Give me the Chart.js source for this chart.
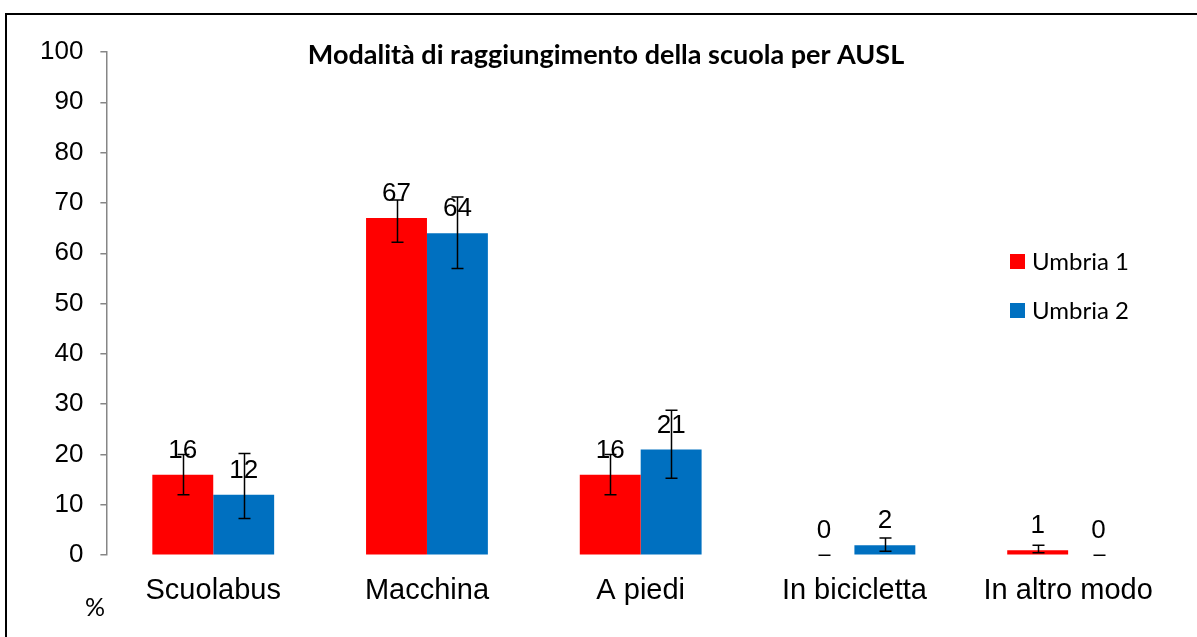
<!DOCTYPE html>
<html>
<head>
<meta charset="utf-8">
<script src="https://cdn.jsdelivr.net/npm/chart.js@4.4.1/dist/chart.umd.min.js"></script>
<style>
  html, body { margin: 0; padding: 0; background: #ffffff; }
  #wrap { position: relative; width: 1197px; height: 637px; }
</style>
</head>
<body>
<div id="wrap"><canvas id="c" width="1197" height="637"></canvas></div>
<script>
const titleText = 'Modalità di raggiungimento della scuola per AUSL';
const categories = ['Scuolabus', 'Macchina', 'A piedi', 'In bicicletta', 'In altro modo'];
const seriesNames = ['Umbria 1', 'Umbria 2'];
const umbria1 = [16, 67, 16, 0, 1];
const umbria2 = [12, 64, 21, 2, 0];
const umbria1Low = [12, 62.2, 12, 0, 0.5];
const umbria1High = [20, 70.6, 20, 0, 2];
const umbria2Low = [7.3, 57, 15.3, 0.8, 0];
const umbria2High = [20.2, 71.2, 28.8, 3.4, 0];
const yTicks = [0, 10, 20, 30, 40, 50, 60, 70, 80, 90, 100];
const yUnit = '%';

const colors = ['#FF0000', '#0070C0'];
const lows = [umbria1Low, umbria2Low];
const highs = [umbria1High, umbria2High];

const extras = {
  id: 'extras',
  afterDatasetsDraw(chart) {
    const ctx = chart.ctx;
    const y = chart.scales.y;
    ctx.save();
    ctx.strokeStyle = '#000';
    ctx.lineWidth = 1.5;
    chart.data.datasets.forEach((ds, di) => {
      const meta = chart.getDatasetMeta(di);
      meta.data.forEach((bar, i) => {
        const x = Math.round(bar.x) + 0.5;
        const yl = y.getPixelForValue(lows[di][i]);
        const yh = y.getPixelForValue(highs[di][i]);
        ctx.beginPath();
        ctx.moveTo(x, yl); ctx.lineTo(x, yh);
        ctx.moveTo(x - 6, yl); ctx.lineTo(x + 6, yl);
        ctx.moveTo(x - 6, yh); ctx.lineTo(x + 6, yh);
        ctx.stroke();
      });
    });
    ctx.fillStyle = '#000';
    ctx.font = '26px "Liberation Sans", Arial, sans-serif';
    ctx.textAlign = 'center';
    ctx.textBaseline = 'alphabetic';
    chart.data.datasets.forEach((ds, di) => {
      const meta = chart.getDatasetMeta(di);
      meta.data.forEach((bar, i) => {
        ctx.fillText(String(ds.data[i]), bar.x, bar.y - 17);
      });
    });
    ctx.restore();
  },
  afterDraw(chart) {
    const ctx = chart.ctx;
    ctx.save();
    ctx.strokeStyle = '#000';
    ctx.lineWidth = 2;
    ctx.strokeRect(6, 14, 1300, 800);
    ctx.fillStyle = '#000';
    ctx.font = 'bold 27px Lato, "Open Sans", sans-serif';
    ctx.textAlign = 'center';
    ctx.textBaseline = 'middle';
    ctx.fillText(titleText, 606, 55);
    ctx.font = '25px Lato, "Open Sans", sans-serif';
    ctx.fillText(yUnit, 95, 608);
    ctx.textAlign = 'left';
    ctx.font = '24px Lato, "Open Sans", sans-serif';
    const ly = [261, 310];
    seriesNames.forEach((n, k) => {
      ctx.fillStyle = colors[k];
      ctx.fillRect(1010, ly[k] - 7, 15, 15);
      ctx.fillStyle = '#000';
      ctx.fillText(n, 1032, ly[k] + 1);
    });
    ctx.restore();
  }
};

new Chart(document.getElementById('c'), {
  type: 'bar',
  data: {
    labels: categories,
    datasets: [
      { label: seriesNames[0], data: umbria1, backgroundColor: colors[0], borderWidth: 0, categoryPercentage: 0.57, barPercentage: 1.0 },
      { label: seriesNames[1], data: umbria2, backgroundColor: colors[1], borderWidth: 0, categoryPercentage: 0.57, barPercentage: 1.0 }
    ]
  },
  options: {
    responsive: false,
    animation: false,
    layout: { padding: { top: 52, left: 23, right: 22, bottom: 19 } },
    plugins: { legend: { display: false }, title: { display: false }, tooltip: { enabled: false } },
    scales: {
      x: {
        grid: { display: false },
        border: { display: false },
        ticks: { color: '#000', font: { family: '"Liberation Sans", Arial, sans-serif', size: 29 }, padding: 10, maxRotation: 0, autoSkip: false }
      },
      y: {
        min: 0, max: 100,
        afterBuildTicks(scale) { scale.ticks = yTicks.map(v => ({ value: v })); },
        grid: { display: true, drawOnChartArea: false, drawTicks: true, tickLength: 6, color: '#868686', lineWidth: 1.5 },
        border: { display: true, color: '#868686', width: 1.5 },
        ticks: { color: '#000', font: { family: '"Liberation Sans", Arial, sans-serif', size: 26 }, padding: 17 }
      }
    }
  },
  plugins: [extras]
});
</script>
</body>
</html>
